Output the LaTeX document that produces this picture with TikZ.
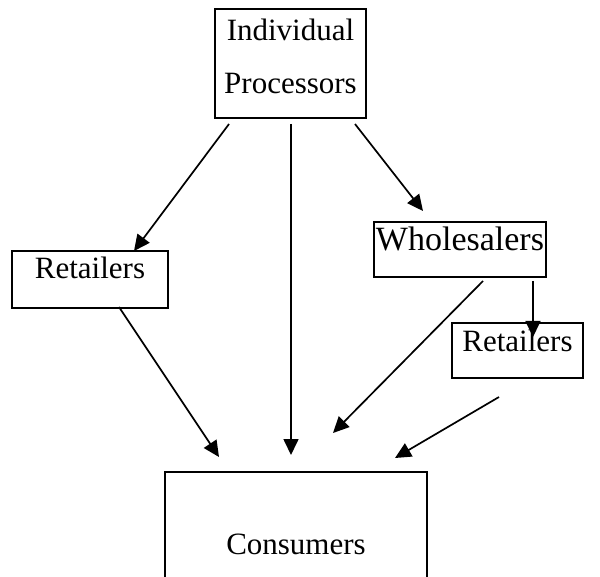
\documentclass[tikz,border=0pt]{standalone}
\usepackage{fontspec}
\setmainfont{Liberation Serif}
\usetikzlibrary{arrows.meta}
\begin{document}
\begin{tikzpicture}[x=1pt,y=-1pt,
  box/.style={draw, line width=1.2pt, inner sep=0pt, font=\fontsize{31}{37}\selectfont},
  flow/.style={line width=1.7pt, -{Triangle[length=16pt,width=15pt]}}]
\useasboundingbox (0,0) rectangle (600,577);
\clip (0,0) rectangle (600,577);
% boxes
\node[box, minimum width=151pt, minimum height=109pt, align=center,
      font=\fontsize{31}{53}\selectfont] (ip) at (290.5,63.5) {Individual\\Processors\rule[-15pt]{0pt}{0pt}};
\node[box, minimum width=156pt, minimum height=57pt, text height=22pt, text depth=23pt] (rl) at (90,279.5) {Retailers};
\node[box, minimum width=172pt, minimum height=55pt, text height=24pt, text depth=21pt,
      font=\fontsize{34}{40}\selectfont] (wh) at (460,249.5) {Wholesalers};
\node[box, minimum width=131pt, minimum height=55pt, text height=24pt, text depth=21pt] (rr) at (517.5,350.5) {Retailers};
\node[box, minimum width=262pt, minimum height=148pt, text height=24pt, text depth=8pt] (co) at (296,546) {Consumers};
% connector end points
\coordinate (a1s) at (229,124);  \coordinate (a1e) at (134,251);
\coordinate (a2s) at (291,124);  \coordinate (a2e) at (291,455);
\coordinate (a3s) at (355,124);  \coordinate (a3e) at (423,211);
\coordinate (a4s) at (483,281);  \coordinate (a4e) at (333,433);
\coordinate (a5s) at (533,281);  \coordinate (a5e) at (533,337);
\coordinate (a6s) at (499,397);  \coordinate (a6e) at (395,458);
\coordinate (a7s) at (119,307);  \coordinate (a7e) at (219,457);
% connectors
\draw[flow] (a1s) -- (a1e);
\draw[flow] (a2s) -- (a2e);
\draw[flow] (a3s) -- (a3e);
\draw[flow] (a4s) -- (a4e);
\draw[flow] (a5s) -- (a5e);
\draw[flow] (a6s) -- (a6e);
\draw[flow] (a7s) -- (a7e);
\end{tikzpicture}
\end{document}
